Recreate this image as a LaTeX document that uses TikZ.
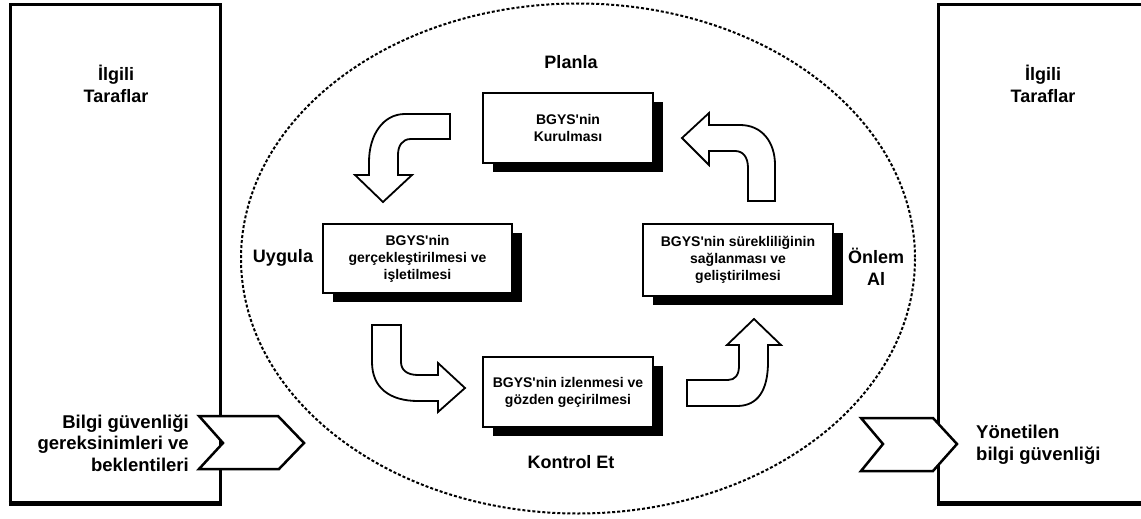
\documentclass[tikz,border=0pt]{standalone}
\usepackage{fontspec}
\setmainfont{Liberation Sans}
\usetikzlibrary{shadows}
\begin{document}
\begin{tikzpicture}[x=1pt,y=-1pt,
 frame/.style={line width=3pt},
 box/.style={draw,line width=1.8pt,fill=white,inner sep=0pt,align=center,
   font=\fontsize{14}{17}\selectfont\bfseries,
   drop shadow={shadow xshift=10pt,shadow yshift=-9pt,fill=black,opacity=1}},
 barrow/.style={draw,line width=1.8pt,fill=white,line join=miter},
 chev/.style={draw,line width=2.5pt,fill=white,line join=miter},
 lab/.style={font=\fontsize{18}{22}\selectfont\bfseries,align=center,inner sep=0pt},
 side/.style={font=\fontsize{18.5}{21.5}\selectfont\bfseries,inner sep=0pt}]
\useasboundingbox (0,0) rectangle (1141,519);
\clip (0,0) rectangle (1141,519);
\fill[white] (0,0) rectangle (1141,519);

% side frames
\draw[frame] (10,5) rectangle (220,503);
\draw[line width=5pt] (8.5,503) -- (221.5,503);
\draw[frame] (1160,5) -- (938,5) -- (938,503) -- (1160,503);
\draw[line width=5pt] (936.5,503) -- (1160,503);

% dotted ellipse
\draw[line width=2pt,dash pattern=on 3pt off 2pt] (578,258.5) ellipse [x radius=337,y radius=255];

% process boxes
\node[box,minimum width=170,minimum height=70] (kur) at (568,128) {BGYS\textquotesingle nin\\Kurulması};
\node[box,minimum width=189,minimum height=69] (ger) at (417.5,258.5) {BGYS\textquotesingle nin\\gerçekleştirilmesi ve\\işletilmesi};
\node[box,minimum width=190,minimum height=72] (sur) at (738,260) {BGYS\textquotesingle nin sürekliliğinin\\sağlanması ve\\geliştirilmesi};
\node[box,minimum width=170,minimum height=70] (izl) at (568,392) {BGYS\textquotesingle nin izlenmesi ve\\gözden geçirilmesi};

% bent block arrows
\draw[barrow] (450,114) -- (405,114) .. controls (383,114) and (369,135) .. (369,162) -- (369,175)
  -- (355,175) -- (383,202) -- (412,175) -- (398,175) -- (398,155)
  .. controls (398,146) and (402,139) .. (411,139) -- (450,139) -- cycle;
\draw[barrow] (682,138) -- (709,113) -- (709,125) -- (740,125)
  .. controls (762,125) and (775,142) .. (775,165) -- (775,201) -- (748,201) -- (748,168)
  .. controls (748,157) and (743,151) .. (735,151) -- (709,151) -- (709,165) -- cycle;
\draw[barrow] (372,325) -- (401,325) -- (401,362) .. controls (401,370) and (407,375) .. (418,375)
  -- (438,375) -- (438,363) -- (465,388) -- (438,412) -- (438,401) -- (418,401)
  .. controls (390,401) and (372,388) .. (372,362) -- cycle;
\draw[barrow] (687,380) -- (687,406) -- (737,406) .. controls (758,406) and (768,390) .. (768,362)
  -- (768,345) -- (781,345) -- (754,319) -- (727,345) -- (739,345) -- (739,366)
  .. controls (739,375) and (735,380) .. (728,380) -- cycle;

% chevrons
\draw[chev] (199,416) -- (278,416) -- (304,443) -- (279,469) -- (199,469) -- (223,443) -- cycle;
\draw[chev] (861,418) -- (933,418) -- (957,444) -- (933,471) -- (861,471) -- (883,444) -- cycle;

% labels
\node[lab] (plan) at (571,62) {Planla};
\node[lab] (uyg) at (283,258) {Uygula};
\node[lab] (onl) at (876,267) {Önlem\\Al};
\node[lab] (kon) at (571,462) {Kontrol Et};
\node[lab] (ilg1) at (116,84) {İlgili\\Taraflar};
\node[lab] (ilg2) at (1043,84) {İlgili\\Taraflar};
\node[side,align=right,anchor=east] (req) at (189,443) {Bilgi güvenliği\\gereksinimleri ve\\beklentileri};
\node[side,align=left,anchor=west] (out) at (976,445) {Yönetilen\\bilgi güvenliği};
\end{tikzpicture}
\end{document}
